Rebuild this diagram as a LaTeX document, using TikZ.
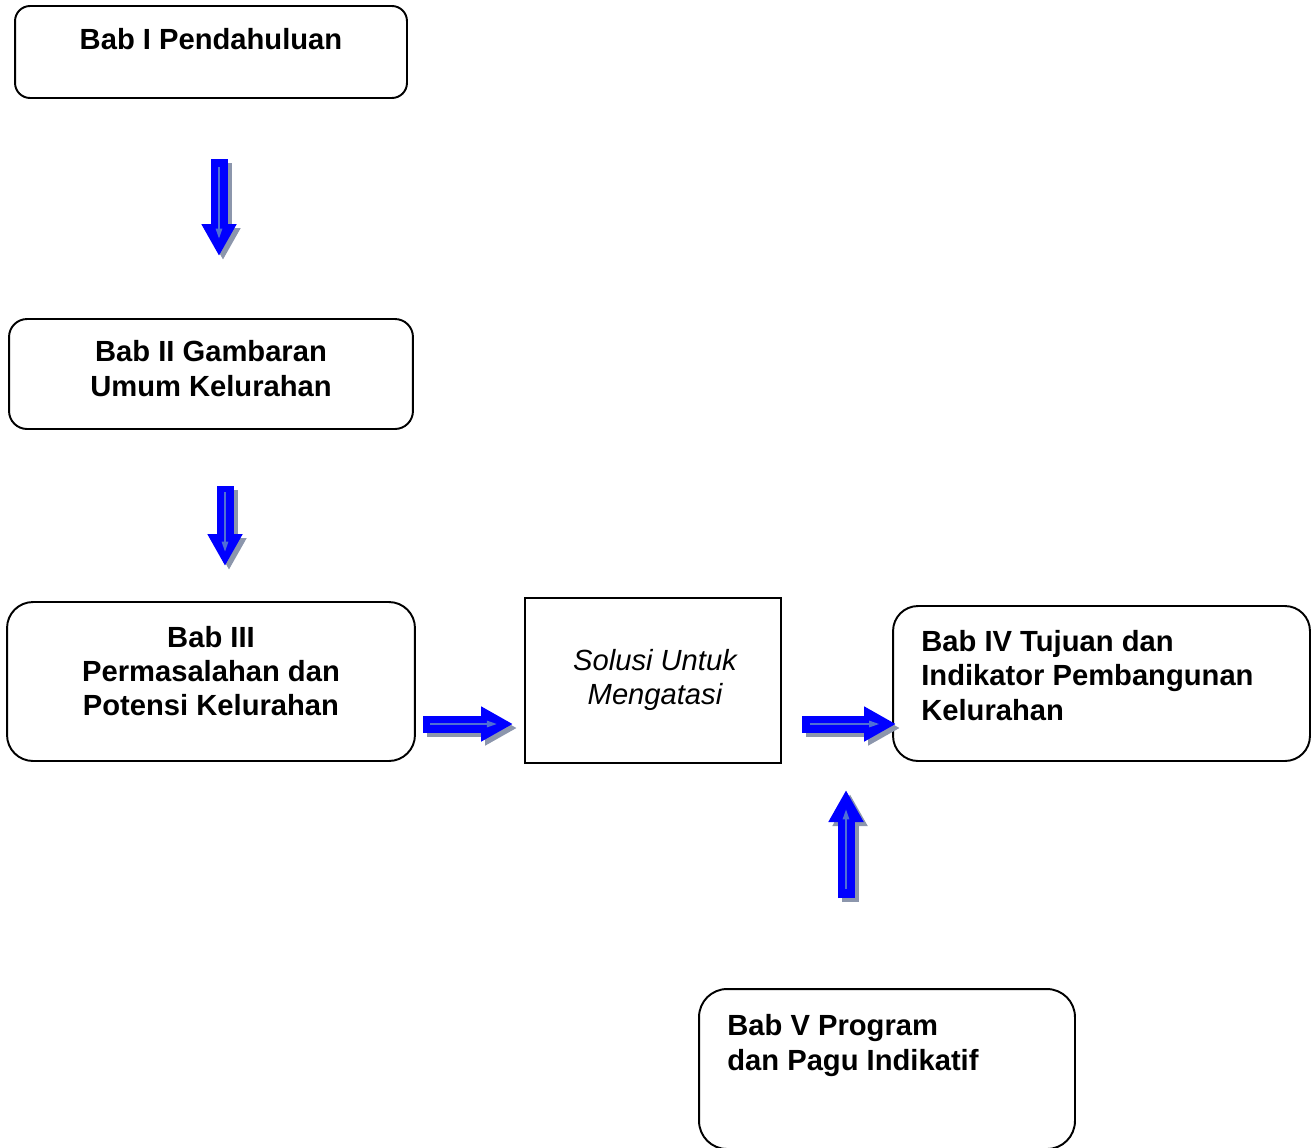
\documentclass[tikz,border=0pt]{standalone}
\usepackage{fontspec}
\setmainfont{Liberation Sans}
\usetikzlibrary{arrows.meta,calc}

\definecolor{biru}{RGB}{0,0,255}
\definecolor{abu}{RGB}{140,150,172}
\definecolor{garisbiru}{RGB}{80,112,212}

\tikzset{
	kotak/.style={draw, line width=1.1pt, rounded corners=#1, inner sep=0pt},
	kotak/.default=0.36cm,
	judul/.style={font=\bfseries\fontsize{16.6}{19.6}\selectfont, inner sep=0pt},
	miring/.style={font=\itshape\fontsize{16.6}{19.6}\selectfont, inner sep=0pt},
	panah/.style={line width=0.34cm, -{Triangle[width=0.66cm,length=0.64cm]}},
	garisdalam/.style={draw=garisbiru, line width=0.8pt, -{Triangle[width=0.13cm,length=0.2cm]}}
}

% panah blok biru dengan bayangan abu-abu
\newcommand{\panahblok}[2]{%
	\draw[panah, draw=abu, transform canvas={xshift=0.08cm,yshift=-0.08cm}] (#1) -- (#2);
	\draw[panah, draw=biru] (#1) -- (#2);
	\draw[garisdalam] ($(#1)!0.08!(#2)$) -- ($(#1)!0.82!(#2)$);
}

\begin{document}
\begin{tikzpicture}[x=0.02cm, y=-0.02cm]
	\useasboundingbox (0,0) rectangle (1311,1147);
	\clip (0,0) rectangle (1311,1147);
	
	% kotak-kotak bab
	\node [kotak=0.3cm, minimum width=7.84cm, minimum height=1.84cm] (bab1) at (211,52) {};
	\node [kotak=0.36cm, minimum width=8.08cm, minimum height=2.2cm] (bab2) at (211,374) {};
	\node [kotak=0.52cm, minimum width=8.16cm, minimum height=3.18cm] (bab3) at (211,681.5) {};
	\node [kotak=0pt, minimum width=5.12cm, minimum height=3.3cm] (solusi) at (653,680.5) {};
	\node [kotak=0.5cm, minimum width=8.34cm, minimum height=3.1cm] (bab4) at (1101.5,683.5) {};
	\node [kotak=0.56cm, minimum width=7.52cm, minimum height=3.2cm] (bab5) at (887,1069) {};
	
	% teks
	\node [judul] (t1) at (211,39) {Bab I Pendahuluan};
	\node [judul, align=center] (t2) at (211,368.5) {Bab II Gambaran\\Umum Kelurahan};
	\node [judul, align=center] (t3) at (211,671) {Bab III\\Permasalahan dan\\Potensi Kelurahan};
	\node [miring, align=center] (t0) at (655,680) {Solusi Untuk\\Mengatasi};
	\node [judul, align=left, anchor=west] (t4) at (921,675.5) {Bab IV Tujuan dan\\Indikator Pembangunan\\Kelurahan};
	\node [judul, align=left, anchor=west, font=\bfseries\fontsize{16.6}{20.4}\selectfont] (t5) at (727,1045.5) {Bab V Program\\dan Pagu Indikatif};
	
	% ujung-ujung panah
	\coordinate (p1a) at (219,159);
	\coordinate (p1b) at (219,256);
	\coordinate (p2a) at (225,486);
	\coordinate (p2b) at (225,566);
	\coordinate (p3a) at (423,724);
	\coordinate (p3b) at (513,724);
	\coordinate (p4a) at (802,724);
	\coordinate (p4b) at (896,724);
	\coordinate (p5a) at (846,898);
	\coordinate (p5b) at (846,790);
	
	\panahblok{p1a}{p1b}
	\panahblok{p2a}{p2b}
	\panahblok{p3a}{p3b}
	\panahblok{p4a}{p4b}
	\panahblok{p5a}{p5b}
\end{tikzpicture}
\end{document}
